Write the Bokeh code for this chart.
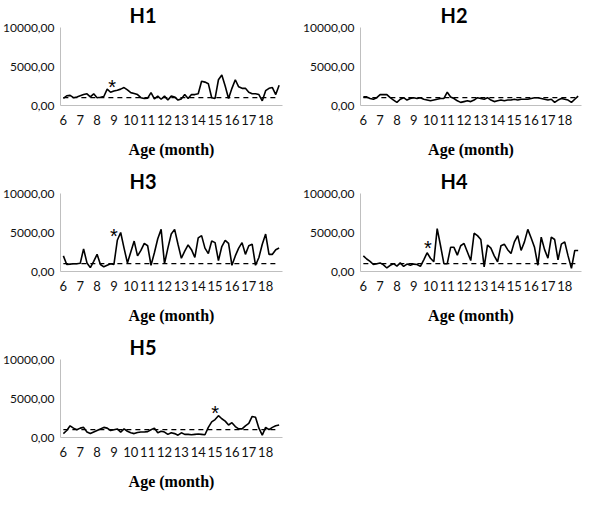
from bokeh.plotting import figure
from bokeh.layouts import gridplot
from bokeh.models import Range1d, FixedTicker
from bokeh.embed import file_html
from bokeh.resources import INLINE
from bokeh.core.properties import value

# ---- data -------------------------------------------------------------
# age axis: samples every 0.2 month from 6 to 18.8
age = [round(6 + 0.2 * i, 1) for i in range(65)]

h1 = [900, 1250, 1300, 1000, 1100, 1250, 1400, 1500, 1100, 1500,
      1000, 1050, 1150, 2100, 1700, 1850, 1950, 2100, 2300, 2000,
      1650, 1550, 1400, 1000, 900, 950, 1650, 850, 1200, 800,
      1200, 700, 1200, 1100, 700, 850, 1400, 900, 1400, 1400,
      1500, 3100, 3000, 2800, 1000, 900, 3300, 3900, 2500, 900,
      2200, 3300, 2400, 2200, 2200, 1700, 1500, 1500, 1400, 600,
      1900, 2200, 2300, 1400, 2600]

h2 = [1100, 1100, 900, 800, 1000, 1400, 1400, 1400, 1000, 700,
      400, 800, 1000, 700, 900, 1000, 900, 1000, 800, 700,
      600, 700, 800, 900, 900, 1700, 1100, 900, 600, 400,
      500, 600, 500, 700, 1000, 900, 800, 1000, 700, 500,
      600, 700, 600, 700, 700, 800, 700, 800, 800, 800,
      900, 1000, 1000, 900, 800, 700, 800, 400, 700, 900,
      800, 700, 400, 800, 1200]

h3 = [2000, 900, 950, 1000, 1000, 1050, 2900, 1100, 500, 1300,
      2200, 900, 600, 800, 1000, 900, 4000, 5000, 3000, 1100,
      2500, 3900, 2000, 2700, 3600, 3300, 800, 2400, 4200, 5400,
      1000, 3000, 4800, 5400, 3500, 1700, 2600, 3400, 2800, 1800,
      4300, 4600, 3000, 2300, 3900, 3700, 1400, 3200, 4000, 3600,
      800, 2000, 3000, 3700, 2200, 3300, 3500, 800, 1800, 3500,
      4800, 2200, 2200, 2800, 3000]

h4 = [2000, 1600, 1300, 900, 1000, 1100, 850, 450, 800, 1000,
      700, 1100, 650, 950, 800, 950, 900, 650, 1500, 2400,
      1700, 1250, 5500, 3300, 1000, 1000, 3100, 3100, 2100, 3300,
      3600, 2500, 1400, 4900, 4600, 4100, 600, 3400, 3000, 2000,
      1250, 3300, 3500, 2800, 2300, 3800, 4600, 2700, 3800, 5400,
      4300, 3100, 800, 4400, 2800, 1700, 4400, 4100, 1500, 3500,
      3800, 2000, 400, 2700, 2700]

h5 = [500, 900, 1500, 1200, 1000, 1200, 1300, 700, 500, 700,
      900, 1100, 1300, 1200, 900, 1000, 1100, 700, 1100, 800,
      600, 500, 650, 700, 700, 750, 1000, 1200, 600, 800,
      700, 400, 600, 500, 300, 600, 400, 400, 350, 400,
      450, 400, 350, 1300, 2000, 2300, 2800, 2400, 2100, 1600,
      1900, 1400, 1100, 1100, 1500, 1800, 2700, 2600, 1200, 300,
      1300, 1000, 1300, 1500, 1600]

panel_names = ["H1", "H2", "H3", "H4", "H5"]
series = [h1, h2, h3, h4, h5]
star_age = [8.9, None, 9.0, 9.85, 15.0]
star_level = [2900, None, 5100, 3540, 3700]
threshold = 1000

x_ticks = list(range(6, 19))
y_ticks = [0, 5000, 10000]
y_tick_labels = ["0,00", "5000,00", "10000,00"]
x_title = "Age (month)"

# ---- drawing ------------------------------------------------------------
AXIS_GREY = "#bfbfbf"
TXT = "#111111"
TOP = 25
FRAME_H = 80


def make_panel(k):
    row, col = divmod(k, 2)
    height = 166 if row < 2 else 162
    bottom = height - TOP - FRAME_H
    p = figure(width=292, height=height,
               x_range=Range1d(5.83, 19.0), y_range=Range1d(0, 10000),
               toolbar_location=None, output_backend="svg",
               min_border_top=TOP, min_border_bottom=bottom,
               min_border_left=58 if col == 0 else 68,
               min_border_right=10 if col == 0 else 3)
    p.outline_line_color = None
    p.xgrid.grid_line_color = None
    p.ygrid.grid_line_color = None
    p.background_fill_color = "white"
    p.border_fill_color = "white"

    p.title.text = panel_names[k]
    p.title.align = "left"
    p.title.offset = 69 if col == 0 else 80
    p.title.standoff = 1
    p.title.text_font = "Lato"
    p.title.text_font_style = "bold"
    p.title.text_font_size = "20px"
    p.title.text_color = "black"

    p.line(age, series[k], line_color="black", line_width=1.6)
    p.line([age[0], age[-1]], [threshold, threshold], line_color="black",
           line_width=1.3, line_dash="5 4")

    if star_age[k] is not None:
        p.text(x=[star_age[k]], y=[star_level[k]], text=["*"],
               text_font=value("Liberation Sans"), text_font_size="20px",
               text_align="center", text_baseline="middle", y_offset=4,
               text_color="black")

    xa = p.xaxis[0]
    xa.ticker = FixedTicker(ticks=x_ticks)
    xa.axis_line_color = AXIS_GREY
    xa.major_tick_line_color = None
    xa.minor_tick_line_color = None
    xa.major_tick_out = 0
    xa.major_tick_in = 0
    xa.major_label_standoff = 9
    xa.major_label_text_font = "Lato"
    xa.major_label_text_font_size = "13px"
    xa.major_label_text_color = TXT
    xa.axis_label = x_title
    xa.axis_label_text_font = "Liberation Serif"
    xa.axis_label_text_font_style = "bold"
    xa.axis_label_text_font_size = "16px"
    xa.axis_label_text_color = "black"
    xa.axis_label_standoff = 13

    ya = p.yaxis[0]
    ya.ticker = FixedTicker(ticks=y_ticks)
    ya.major_label_overrides = {t: s for t, s in zip(y_ticks, y_tick_labels)}
    ya.axis_line_color = AXIS_GREY
    ya.major_tick_line_color = None
    ya.minor_tick_line_color = None
    ya.major_tick_out = 0
    ya.major_tick_in = 0
    ya.major_label_standoff = 6
    ya.major_label_text_font = "Lato"
    ya.major_label_text_font_size = "12px"
    ya.major_label_text_color = TXT
    return p


figs = [make_panel(k) for k in range(5)]
grid = gridplot([[figs[0], figs[1]], [figs[2], figs[3]], [figs[4], None]],
                toolbar_location=None)

open("out.html", "w").write(file_html(grid, INLINE))
